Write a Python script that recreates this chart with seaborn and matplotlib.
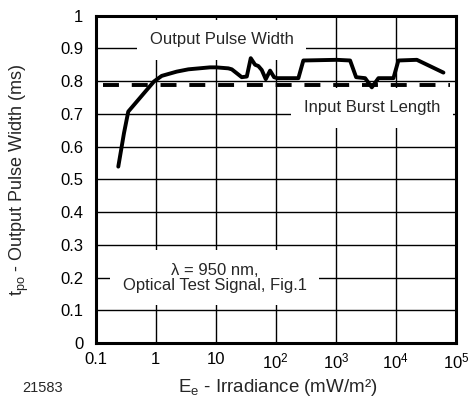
import numpy as np
import pandas as pd
import matplotlib
matplotlib.use("Agg")
import matplotlib.pyplot as plt
import seaborn as sns

# irradiance (mW/m^2) and output pulse width (ms)
irradiance = [0.238, 0.296, 0.349, 0.708, 0.937, 1.26, 2.24, 3.5, 8.0, 10.1,
              16.2, 18.5, 22.4, 27.1, 32.9, 38.3, 45.2, 51.3, 58.4, 68.1,
              80.4, 93.7, 106, 238, 288, 1040, 1730, 2180, 3080, 3980,
              5130, 9120, 11040, 22400, 62100]
pulse_width = [0.539, 0.641, 0.707, 0.773, 0.799, 0.816, 0.829, 0.836, 0.842, 0.842,
               0.839, 0.836, 0.824, 0.812, 0.814, 0.870, 0.850, 0.846, 0.834, 0.806,
               0.832, 0.812, 0.809, 0.809, 0.863, 0.865, 0.863, 0.812, 0.809, 0.781,
               0.809, 0.809, 0.863, 0.865, 0.826]

burst_x = [0.131, 80300]
burst_y = [0.787, 0.787]

x_ticks = [0.1, 1, 10, 100, 1000, 1e4, 1e5]
x_labels = ["0.1", "1", "10", "10$^2$", "10$^3$", "10$^4$", "10$^5$"]
y_ticks = [0, 0.1, 0.2, 0.3, 0.4, 0.5, 0.6, 0.7, 0.8, 0.9, 1]
y_labels = ["0", "0.1", "0.2", "0.3", "0.4", "0.5", "0.6", "0.7", "0.8", "0.9", "1"]

sns.set_style("white")
plt.rcParams['font.family'] = ['Liberation Sans', 'DejaVu Sans']
plt.rcParams['mathtext.default'] = 'regular'

fig = plt.figure(figsize=(4.69, 4.0), dpi=100)
ax = fig.add_axes([0.204, 0.142, 0.768, 0.819])

curve = pd.DataFrame({'x': irradiance, 'y': pulse_width})
burst = pd.DataFrame({'x': burst_x, 'y': burst_y})

sns.lineplot(data=curve, x='x', y='y', color='black', lw=2.8,
             estimator=None, sort=False, ax=ax, zorder=4)
sns.lineplot(data=burst, x='x', y='y', color='black', lw=2.8,
             estimator=None, sort=False, ax=ax, zorder=4)
ax.lines[-1].set_dashes((4.1, 3.3))

ax.set_xscale('log')
ax.set_xlim(0.1, 1e5)
ax.set_ylim(0, 1)
ax.set_xticks(x_ticks)
ax.set_xticklabels(x_labels)
ax.set_yticks(y_ticks)
ax.set_yticklabels(y_labels)
ax.minorticks_off()
ax.tick_params(length=0, colors='black', labelsize=12)
ax.tick_params(axis='y', pad=9)
ax.tick_params(axis='x', pad=6)

ax.set_axisbelow(True)
ax.grid(True, color='black', lw=1.0)
for s in ax.spines.values():
    s.set_linewidth(2.2)
    s.set_color('black')

ax.set_xlabel("E$_e$ - Irradiance (mW/m²)", fontsize=13.5)
ax.set_ylabel("t$_{po}$ - Output Pulse Width (ms)", fontsize=13)
ax.xaxis.set_label_coords(0.505, -0.104)
ax.yaxis.set_label_coords(-0.18, 0.5)

box = dict(facecolor='white', edgecolor='none', pad=9)
ax.text(0.35, 0.926, "Output Pulse Width", transform=ax.transAxes,
        ha='center', va='center', fontsize=12, bbox=box, zorder=3)
ax.text(0.767, 0.718, "Input Burst Length", transform=ax.transAxes,
        ha='center', va='center', fontsize=12, bbox=box, zorder=3)
ax.text(0.331, 0.2, "λ = 950 nm,\nOptical Test Signal, Fig.1", transform=ax.transAxes,
        ha='center', va='center', fontsize=12, linespacing=1.0,
        bbox=box, zorder=3)

fig.text(0.047, 0.03, "21583", fontsize=10.5, va='center')

fig.savefig("out.png", dpi=100)
